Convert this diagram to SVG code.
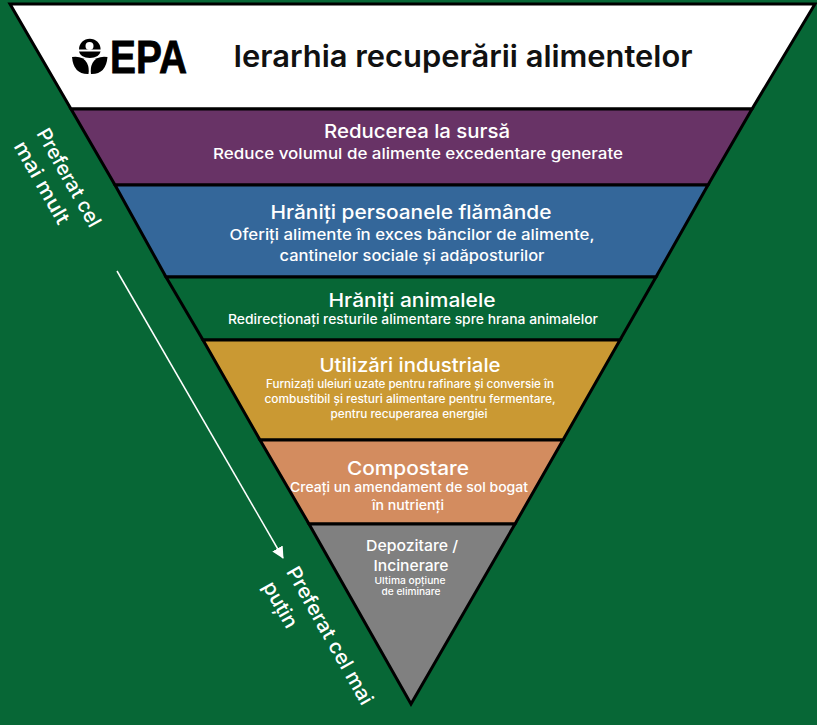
<svg xmlns="http://www.w3.org/2000/svg" width="817" height="725" viewBox="0 0 817 725">
<style>
text{font-family:Inter,"Noto Sans","Liberation Sans",sans-serif;fill:#fff;text-anchor:middle}
.band{stroke:#000;stroke-width:3;stroke-linejoin:miter}
.h{font-weight:500}
.s{font-weight:500}
</style>
<defs><marker id="ah" markerUnits="userSpaceOnUse" markerWidth="14" markerHeight="14" refX="11" refY="6" orient="auto"><path d="M0 0L12 6L0 12Z" fill="#fff"/></marker></defs>
<rect width="817" height="725" fill="#076736"/>
<g id="node-title">
<polygon class="band" points="10,4 815,4 752,109 71,109" fill="#fff"/>
<text x="463" y="67" font-size="30" textLength="459" lengthAdjust="spacingAndGlyphs" style="fill:#111;font-weight:600">Ierarhia recuperării alimentelor</text>
<g id="epa-logo">
<path d="M79 49.500a10.800 10.800 0 0 1 21.600 0Z" fill="#000"/>
<path d="M79 51.500h21.600q-1.500 6.500-10.800 6.500T79 51.500Z" fill="#000"/>
<circle cx="89.500" cy="46" r="4" fill="#fff"/>
<path d="M72 57q11-1.500 15 6q2.500 5 1.500 11q-15 .5-16.500-17Z" fill="#000"/>
<path d="M107.500 57q-11-1.500-15 6q-2.500 5-1.500 11q15 .5 16.500-17Z" fill="#000"/>
<text x="148.500" y="73" font-size="46" font-weight="700" textLength="77" lengthAdjust="spacingAndGlyphs" style="font-family:'Liberation Sans',sans-serif;fill:#000;stroke:#000;stroke-width:.8">EPA</text>
</g>
</g>
<g id="node-reducere">
<polygon class="band" points="71,109 752,109 708,185 115,185" fill="#683366"/>
<text class="h" x="417" y="138" font-size="19" textLength="186" lengthAdjust="spacingAndGlyphs">Reducerea la sursă</text>
<text class="s" x="418" y="159" font-size="15" textLength="410" lengthAdjust="spacingAndGlyphs">Reduce volumul de alimente excedentare generate</text>
</g>
<g id="node-hraniti-persoane">
<polygon class="band" points="115,185 708,185 656,277 166,277" fill="#34679a"/>
<text class="h" x="411" y="219" font-size="19" textLength="281" lengthAdjust="spacingAndGlyphs">Hrăniți persoanele flămânde</text>
<text class="s" x="412" y="240" font-size="15" textLength="365" lengthAdjust="spacingAndGlyphs">Oferiți alimente în exces băncilor de alimente,</text>
<text class="s" x="412" y="261" font-size="15" textLength="265" lengthAdjust="spacingAndGlyphs">cantinelor sociale și adăposturilor</text>
</g>
<g id="node-hraniti-animale">
<polygon class="band" points="166,277 656,277 620,340 203,340" fill="#076736"/>
<text class="h" x="412" y="307" font-size="19" textLength="167" lengthAdjust="spacingAndGlyphs">Hrăniți animalele</text>
<text class="s" x="413" y="324" font-size="13" textLength="370" lengthAdjust="spacingAndGlyphs">Redirecționați resturile alimentare spre hrana animalelor</text>
</g>
<g id="node-industriale">
<polygon class="band" points="203,340 620,340 563,440 260,440" fill="#ca9933"/>
<text class="h" x="410" y="372" font-size="19" textLength="181" lengthAdjust="spacingAndGlyphs">Utilizări industriale</text>
<text class="s" x="410" y="388" font-size="11.500" textLength="288" lengthAdjust="spacingAndGlyphs">Furnizați uleiuri uzate pentru rafinare și conversie în</text>
<text class="s" x="410" y="403" font-size="11.500" textLength="291" lengthAdjust="spacingAndGlyphs">combustibil și resturi alimentare pentru fermentare,</text>
<text class="s" x="409" y="418" font-size="11.500" textLength="157" lengthAdjust="spacingAndGlyphs">pentru recuperarea energiei</text>
</g>
<g id="node-compostare">
<polygon class="band" points="260,440 563,440 515,524 309,524" fill="#d38c5f"/>
<text class="h" x="408" y="475" font-size="19" textLength="122" lengthAdjust="spacingAndGlyphs">Compostare</text>
<text class="s" x="409" y="492" font-size="13.500" textLength="238" lengthAdjust="spacingAndGlyphs">Creați un amendament de sol bogat</text>
<text class="s" x="408" y="510" font-size="13.500" textLength="72" lengthAdjust="spacingAndGlyphs">în nutrienți</text>
</g>
<g id="node-depozitare">
<polygon class="band" points="309,524 515,524 411,704" fill="#808080"/>
<text class="s" x="412" y="551" font-size="15" textLength="92" lengthAdjust="spacingAndGlyphs">Depozitare /</text>
<text class="s" x="411" y="571" font-size="15" textLength="75" lengthAdjust="spacingAndGlyphs">Incinerare</text>
<text class="s" x="410" y="584" font-size="9.500" textLength="71" lengthAdjust="spacingAndGlyphs">Ultima opțiune</text>
<text class="s" x="411" y="595" font-size="9.500" textLength="59" lengthAdjust="spacingAndGlyphs">de eliminare</text>
</g>
<g id="connectors">
<line x1="117" y1="271" x2="283" y2="558" stroke="#fff" stroke-width="1.500" marker-end="url(#ah)"/>
</g>
<g id="labels" font-size="20" font-weight="500">
<text transform="translate(63 181) rotate(60.500)" textLength="110" lengthAdjust="spacingAndGlyphs">Preferat cel</text>
<text transform="translate(36 186) rotate(60.500)" textLength="92" lengthAdjust="spacingAndGlyphs">mai mult</text>
<text transform="translate(324 639) rotate(60.500)" textLength="155" lengthAdjust="spacingAndGlyphs">Preferat cel mai</text>
<text transform="translate(274.500 608) rotate(60.500)" textLength="50" lengthAdjust="spacingAndGlyphs">puțin</text>
</g>
</svg>
